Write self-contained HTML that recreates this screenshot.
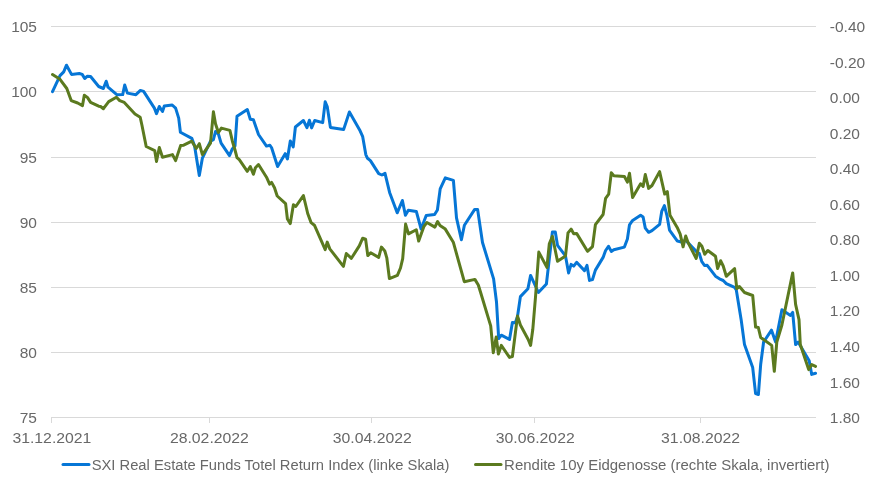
<!DOCTYPE html>
<html lang="de"><head><meta charset="utf-8"><title>SXI Real Estate Funds vs. Rendite 10y Eidgenosse</title>
<style>
html,body{margin:0;padding:0;background:#fff;}
body{width:881px;height:484px;overflow:hidden;}
svg{display:block;}
text{font-family:"Liberation Sans",sans-serif;font-size:15.5px;fill:#686868;}
</style></head><body>
<svg width="881" height="484" viewBox="0 0 881 484">
<rect width="881" height="484" fill="#fff"/>
<g stroke="#d9d9d9" stroke-width="1" shape-rendering="crispEdges">
<line x1="51" x2="815.5" y1="26.5" y2="26.5"/>
<line x1="51" x2="815.5" y1="91.5" y2="91.5"/>
<line x1="51" x2="815.5" y1="157.5" y2="157.5"/>
<line x1="51" x2="815.5" y1="222.5" y2="222.5"/>
<line x1="51" x2="815.5" y1="287.5" y2="287.5"/>
<line x1="51" x2="815.5" y1="352.5" y2="352.5"/>
<line x1="51" x2="815.5" y1="417.5" y2="417.5"/>
<line x1="51.5" x2="51.5" y1="417.5" y2="422.5"/>
<line x1="209.5" x2="209.5" y1="417.5" y2="422.5"/>
<line x1="371.5" x2="371.5" y1="417.5" y2="422.5"/>
<line x1="534.5" x2="534.5" y1="417.5" y2="422.5"/>
<line x1="700.5" x2="700.5" y1="417.5" y2="422.5"/>
</g>
<g text-anchor="end">
<text x="37" y="31.9">105</text>
<text x="37" y="96.9">100</text>
<text x="37" y="162.9">95</text>
<text x="37" y="227.9">90</text>
<text x="37" y="292.9">85</text>
<text x="37" y="357.9">80</text>
<text x="37" y="422.9">75</text>
</g><g>
<text x="829.8" y="31.9">-0.40</text>
<text x="829.8" y="67.5">-0.20</text>
<text x="829.8" y="103.0">0.00</text>
<text x="829.8" y="138.6">0.20</text>
<text x="829.8" y="174.2">0.40</text>
<text x="829.8" y="209.7">0.60</text>
<text x="829.8" y="245.3">0.80</text>
<text x="829.8" y="280.8">1.00</text>
<text x="829.8" y="316.4">1.20</text>
<text x="829.8" y="352.0">1.40</text>
<text x="829.8" y="387.5">1.60</text>
<text x="829.8" y="423.1">1.80</text>
</g><g text-anchor="middle">
<text x="51.9" y="443.2" textLength="79" lengthAdjust="spacingAndGlyphs">31.12.2021</text>
<text x="209.4" y="443.2" textLength="79" lengthAdjust="spacingAndGlyphs">28.02.2022</text>
<text x="372.3" y="443.2" textLength="79" lengthAdjust="spacingAndGlyphs">30.04.2022</text>
<text x="535.2" y="443.2" textLength="79" lengthAdjust="spacingAndGlyphs">30.06.2022</text>
<text x="700.6" y="443.2" textLength="79" lengthAdjust="spacingAndGlyphs">31.08.2022</text>
</g>
<polyline fill="none" stroke="#0676d6" stroke-width="3" stroke-linejoin="round" stroke-linecap="round" points="52.5,91.6 60,75.6 63.7,71.9 66.5,65.2 71.5,74.4 79.3,73.5 82.2,74.4 84.7,78.5 87.4,76.2 90.6,76.5 98.7,86.5 103.4,88.5 106.2,81.2 108,87.2 116.8,94.7 122.7,94.6 124.7,85 127.4,93.1 135.9,94.7 140.4,90.4 143.6,91.4 154.4,108.1 156.5,113.7 159.3,106.5 162.5,111.5 164.3,106 172.2,105 175.6,108.1 178.7,118.1 180.4,132.3 191.8,138.4 194.5,145.6 199.3,175.6 202.4,158.1 210.5,141.2 213.4,139.7 215.5,131.5 218.4,134 221.1,143.1 229.5,155.6 232.4,148.7 235,146 237,116.3 247.3,109.5 250.3,119.2 253.4,119.7 258.5,134.5 266.5,146.1 269.9,145.2 271.6,147.8 277.6,166.5 285.2,153.7 287.4,158.9 290.3,141 293.2,146.9 295.4,127 303.4,120.5 306.9,127.7 309.4,120.2 311.6,127.9 314.7,120.5 322.7,122.6 325.2,101.8 327.3,106.9 330.4,127.4 343.6,129.6 349.4,112 360.1,130.8 362.7,136.7 365.8,154.6 367.5,158.3 370.4,160.6 378.7,173.6 381.9,175 385,173.3 389.6,192.4 397.2,212.8 402.4,200.5 405.4,215.3 408.3,210.2 416.3,211.4 421.1,229 426.2,215.5 434.6,214.5 437.4,210 440.2,188.9 445.3,177.9 453.4,180.4 456.5,217.9 461.4,239.7 464.4,225.3 474.7,209.4 477.6,209.4 482.5,242.5 493.6,278.9 496.5,302 498.7,338.6 501.3,335.2 509.5,339.5 512.4,322.5 515.3,322.8 517.5,316.5 520.4,296.6 527.9,288.7 530.6,275.4 538.4,292.5 546.4,284 552.4,232 555.3,232 557.5,245.3 565.5,255.9 568.6,272.9 571.1,264.4 573.7,266.1 576.6,262.3 584.5,270.6 587,265.4 589.5,280.4 592.5,279.5 595.4,270.1 603.1,257.4 605.6,250.5 608.5,246.3 611.3,251.4 613.8,249.7 624.4,247.1 627.4,239 629.5,224.8 632.6,220.4 640.6,215.3 643.1,217 645.3,228.1 648.6,232.3 652,230.6 659.6,224.4 661.8,211.1 664.4,205.6 666.9,215.3 669.5,230 677.4,241 681.4,242 685.7,240.3 696.2,251.4 699.3,253.5 701.7,261.3 704.5,265.5 707.2,265.3 715.5,276.2 720.6,279.4 723.2,280.5 726.3,283.6 734.6,287.4 736.3,289.9 741.2,320 744.5,344.6 752.7,367.6 755.6,393.6 758.4,394.5 760.7,364.2 763.6,342 771.5,330.2 775.6,342 781.9,309.8 790.5,315.4 792.7,312.4 795.6,344.6 798.1,342 809.2,360.8 811.7,374.4 815.5,373.2"/>
<polyline fill="none" stroke="#5b7a1f" stroke-width="3" stroke-linejoin="round" stroke-linecap="round" points="52.5,74.6 60,79.3 66.8,88.5 71.2,100.6 77.7,103 82.5,105.6 84.3,95.2 87.4,97.4 90.6,102.4 98.7,106.2 100.6,106.5 103.4,108.7 108.7,101.6 116.4,97.2 119.7,100.6 124.3,102.4 135,114 140.2,117.2 141.9,125 146.2,146.5 154.7,150.6 156.5,161.5 159.3,147.5 162.5,157.2 172.5,154.6 175.6,160.6 180.6,145.6 183.7,145.2 191.8,141.2 196.2,148.5 199.3,143.7 202.4,154.7 210.5,143.1 213.4,111.8 215.5,123.7 218.4,132.5 221.4,128.1 229.9,130.4 232.4,141.2 235,150 237,157.6 239.3,159.7 247.3,171.3 250.3,166.6 253.4,174.3 255.4,167.7 258.5,164.5 266.5,177.2 269.6,184.1 271.6,182.4 274.5,187.8 277.2,196 285.6,203.6 287.4,219 290.3,223.6 293.4,204.8 295.8,206.5 303.4,195.6 306.3,207.5 307.7,213.5 311.1,222.6 314.4,225.2 325.2,249.6 327.2,242.1 329.8,248.9 343.4,266.3 346.3,253.5 351.4,258.3 359.3,245.9 362.7,238.2 365.6,239.1 367.8,255.6 370.7,252.7 378.7,257.4 381.4,247.1 384.8,251 386.8,257.8 389.4,278.6 397.4,275.3 400.5,268 402.7,258.6 405.6,224.1 408.5,233.9 416.3,229.7 418.7,241.1 421.2,233.9 424,226.3 426.9,222.5 434.9,227.1 437.6,221.5 440,225.5 445.3,229.1 453.3,242.2 464.3,281.7 474.9,279.4 478.3,285 480.4,291.8 490.7,325.9 493.3,352.8 496.2,336.9 498.4,354 501.3,345.4 509.5,357.4 512.4,356.5 517.5,316 520.4,325 528.2,339.5 530.6,345.4 532.8,329.3 535.5,297 538.8,252.1 546.9,267.4 549.3,243.9 552.4,236.3 557.5,261.3 565.5,255.9 568,232.9 571.1,229.1 573.7,233.7 576.6,233.4 587.5,251.3 592.5,246.6 595.4,224.7 603.1,214.5 605.6,198.3 608.7,194.1 611.3,172.8 613.8,175.7 624.4,176.5 627.4,182.1 629.5,173.3 632.6,197.5 640.6,183.8 643.1,186.4 645.3,174.5 648.6,188.4 652,185.5 659.6,171.6 664.7,194.1 667.3,191.5 670,215.3 677.2,227.4 680.2,234.2 683.1,246.8 685.7,236 688.2,242.9 696.2,258.5 699.3,243.2 701.9,246.3 704.7,254.3 707.8,250.5 715.5,256.3 717.6,268.5 720.6,260.7 723.2,266 726.3,276.3 734.6,268.6 736.8,288.7 739.4,286.5 744.5,292.5 752.7,295.5 755.6,327 758.3,327.5 760.7,337.5 771.7,345.4 774.3,371.3 776.8,342 781.9,325 792.7,272.9 795.6,304.4 799,319.7 800.3,344.6 808.7,369.6 811.7,364.5 815.5,366.4"/>
<line x1="63" x2="89" y1="464.4" y2="464.4" stroke="#0676d6" stroke-width="3" stroke-linecap="round"/>
<text x="91.7" y="470" font-size="16" textLength="357.7" lengthAdjust="spacingAndGlyphs">SXI Real Estate Funds Totel Return Index (linke Skala)</text>
<line x1="475.5" x2="501" y1="464.4" y2="464.4" stroke="#5b7a1f" stroke-width="3" stroke-linecap="round"/>
<text x="504.1" y="470" font-size="16" textLength="325.4" lengthAdjust="spacingAndGlyphs">Rendite 10y Eidgenosse (rechte Skala, invertiert)</text>
</svg></body></html>
